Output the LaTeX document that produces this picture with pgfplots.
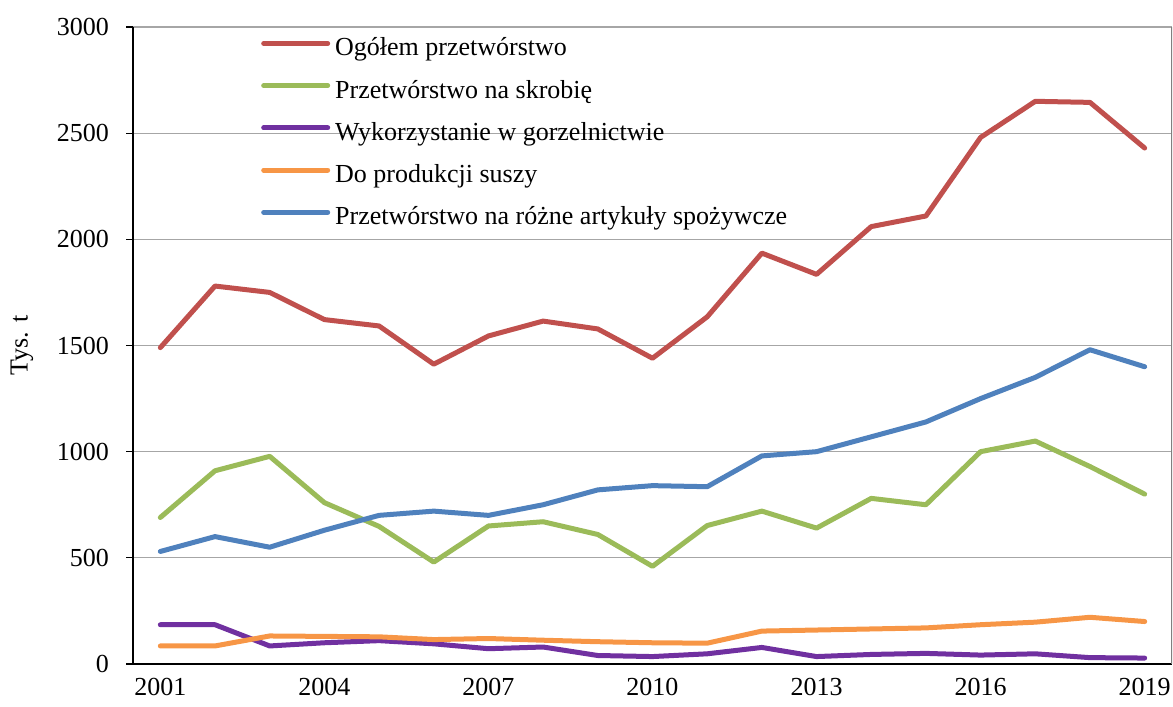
\documentclass[border=0pt]{standalone}
\usepackage{fontspec}
\setmainfont{Liberation Serif}
\usepackage{pgfplots}
\pgfplotsset{compat=1.18}

\definecolor{cred}{HTML}{C0504D}
\definecolor{cgreen}{HTML}{9BBB59}
\definecolor{cpurple}{HTML}{7030A0}
\definecolor{corange}{HTML}{F79646}
\definecolor{cblue}{HTML}{4F81BD}
\definecolor{cgrid}{HTML}{A6A6A6}

\begin{document}
\begin{tikzpicture}
% fix the page to the reference's proportions (1px = 0.5pt)
\useasboundingbox (-66.5pt,-21.5pt) rectangle (520pt,332pt);
\begin{axis}[
    scale only axis,
    width=519.5pt,
    height=318.5pt,
    xmin=2000.5, xmax=2019.5,
    ymin=0, ymax=3000,
    axis lines=left,
    axis line style={-, black, line width=0.6pt},
    xtick={2001,2004,...,2019},
    minor xtick={2000.5,2001.5,...,2019.5},
    x tick style={draw=none},
    minor x tick style={black, line width=0.6pt},
    minor tick length=3.5pt,
    ytick={0,500,...,3000},
    y tick style={black, line width=0.6pt},
    major tick length=3.5pt,
    tick align=outside,
    ymajorgrids=true,
    grid style={cgrid, line width=0.6pt},
    xticklabel style={/pgf/number format/1000 sep=},
    yticklabel style={/pgf/number format/1000 sep=, xshift=-5pt},
    /pgf/number format/assume math mode=true,
    tick label style={font=\fontsize{13}{15.6}\selectfont},
    ylabel={Tys. t},
    every axis y label/.style={at={([xshift=-55.5pt]axis description cs:0,0.5)},
        rotate=90, anchor=center, font=\fontsize{13}{15.6}\selectfont},
    legend cell align=left,
    legend style={at={(0.123,0.985)}, anchor=north west, draw=none, fill=none,
        font=\fontsize{13}{15.6}\selectfont, row sep=8.6pt, inner sep=0pt,
        nodes={inner xsep=2.5pt, inner ysep=0pt, text height=9.5pt, text depth=3pt}},
    legend image code/.code={\draw[#1, line width=2.5pt, line cap=round] (0pt,3pt) -- (32pt,3pt);},
    every axis plot/.append style={line width=2.5pt, line cap=round, line join=round, mark=none},
]
\addplot[cred] coordinates {
(2001,1490) (2002,1780) (2003,1750) (2004,1622) (2005,1592) (2006,1412)
(2007,1545) (2008,1615) (2009,1578) (2010,1440) (2011,1635) (2012,1935)
(2013,1835) (2014,2060) (2015,2110) (2016,2480) (2017,2650) (2018,2645) (2019,2430)};
\addlegendentry{Ogółem przetwórstwo}
\addplot[cgreen] coordinates {
(2001,690) (2002,910) (2003,978) (2004,760) (2005,648) (2006,480)
(2007,650) (2008,670) (2009,610) (2010,460) (2011,652) (2012,720)
(2013,640) (2014,780) (2015,750) (2016,1000) (2017,1050) (2018,930) (2019,800)};
\addlegendentry{Przetwórstwo na skrobię}
\addplot[cpurple] coordinates {
(2001,185) (2002,185) (2003,85) (2004,100) (2005,110) (2006,95)
(2007,72) (2008,80) (2009,40) (2010,35) (2011,48) (2012,78)
(2013,35) (2014,45) (2015,50) (2016,42) (2017,48) (2018,30) (2019,28)};
\addlegendentry{Wykorzystanie w gorzelnictwie}
\addplot[corange] coordinates {
(2001,85) (2002,85) (2003,132) (2004,130) (2005,128) (2006,115)
(2007,120) (2008,112) (2009,105) (2010,100) (2011,98) (2012,155)
(2013,160) (2014,165) (2015,170) (2016,185) (2017,197) (2018,220) (2019,200)};
\addlegendentry{Do produkcji suszy}
\addplot[cblue] coordinates {
(2001,530) (2002,600) (2003,550) (2004,630) (2005,700) (2006,720)
(2007,700) (2008,750) (2009,820) (2010,840) (2011,835) (2012,980)
(2013,1000) (2014,1070) (2015,1140) (2016,1250) (2017,1350) (2018,1480) (2019,1400)};
\addlegendentry{Przetwórstwo na różne artykuły spożywcze}
\draw[gray, line width=0.6pt] (rel axis cs:1,0) -- (rel axis cs:1,1);
\end{axis}
\end{tikzpicture}
\end{document}
